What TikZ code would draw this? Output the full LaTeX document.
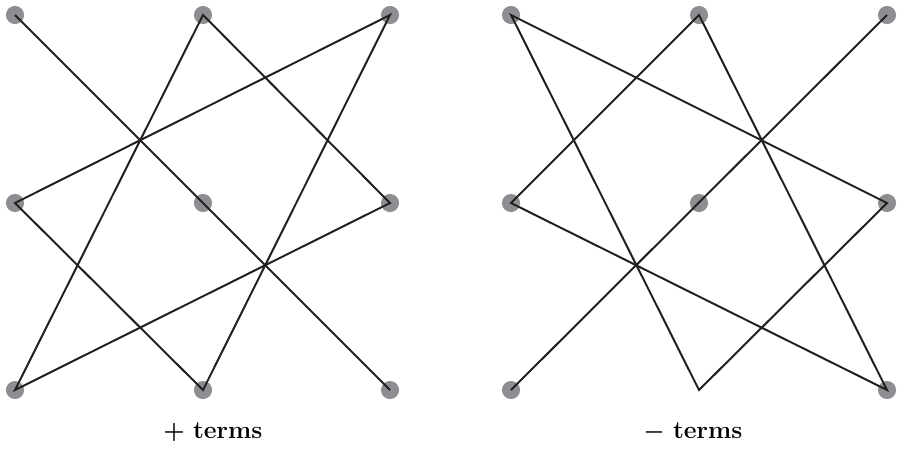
\documentclass[tikz,border=0pt]{standalone}
\usepackage{amsmath,amssymb}
\usepackage{xcolor}
\usepackage{tikz}
\definecolor{dotgray}{HTML}{8E8E92}
\definecolor{ink}{HTML}{231F20}

\begin{document}
\begin{tikzpicture}[
  x=0.016cm, y=-0.016cm,
  dot/.style={circle, fill=dotgray, inner sep=0pt, minimum size=0.29cm},
  term/.style={draw=ink, line width=0.9pt, line join=miter},
  caption/.style={font=\fontsize{11.3}{13}\selectfont, anchor=base west, inner sep=0pt}
]
\useasboundingbox (0,0) rectangle (903,452);
% left grid
\foreach \c/\x in {1/15, 2/203, 3/390}
  \foreach \r/\y in {1/15, 2/203, 3/390}
    \node[dot] (l\r\c) at (\x,\y) {};
% right grid (no dot at the bottom middle)
\foreach \c/\x in {1/511, 2/699, 3/887}
  \foreach \r/\y in {1/15, 2/203}
    \node[dot] (r\r\c) at (\x,\y) {};
\node[dot] (r31) at (511,390) {};
\node[dot] (r33) at (887,390) {};
\coordinate (r32) at (699,390);
% + terms
\draw[term] (l11.center) -- (l33.center);
\draw[term] (l12.center) -- (l23.center) -- (l31.center) -- cycle;
\draw[term] (l13.center) -- (l21.center) -- (l32.center) -- cycle;
% - terms
\draw[term] (r13.center) -- (r31.center);
\draw[term] (r11.center) -- (r23.center) -- (r32) -- cycle;
\draw[term] (r12.center) -- (r21.center) -- (r33.center) -- cycle;
% captions
\node[caption] (plus) at (163,438) {$\boldsymbol{+}$ \textbf{terms}};
\node[caption] (minus) at (643,438) {$\boldsymbol{-}$ \textbf{terms}};
\end{tikzpicture}
\end{document}
